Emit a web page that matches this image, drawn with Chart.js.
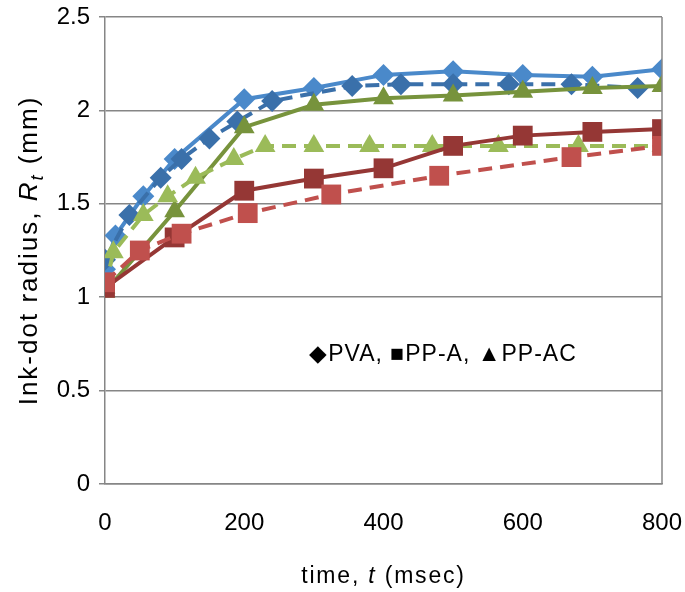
<!DOCTYPE html>
<html>
<head>
<meta charset="utf-8">
<script src="https://cdn.jsdelivr.net/npm/chart.js@4.4.1/dist/chart.umd.min.js"></script>
<style>
  html, body { margin: 0; padding: 0; background: #fff; }
  #wrap { width: 685px; height: 592px; }
</style>
</head>
<body>
<div id="wrap"><canvas id="chart" width="685" height="592"></canvas></div>
<script>
// time (msec) and radius (mm)
const pvaSolidT = [0, 15, 55, 100, 200, 300, 400, 500, 600, 700, 800];
const pvaSolidR = [1.15, 1.33, 1.54, 1.74, 2.06, 2.12, 2.19, 2.21, 2.19, 2.18, 2.22];
const pvaDashT = [0, 35, 80, 110, 150, 190, 240, 355, 425, 500, 580, 670, 765];
const pvaDashR = [1.2, 1.44, 1.64, 1.74, 1.85, 1.94, 2.05, 2.13, 2.14, 2.14, 2.14, 2.14, 2.12];

const ppaSolidT = [0, 100, 200, 300, 400, 500, 600, 700, 800];
const ppaSolidR = [1.05, 1.32, 1.57, 1.635, 1.69, 1.81, 1.865, 1.885, 1.9];
const ppaDashT = [0, 50, 110, 205, 325, 480, 670, 800];
const ppaDashR = [1.08, 1.25, 1.34, 1.45, 1.55, 1.65, 1.75, 1.81];

const ppacSolidT = [0, 100, 200, 300, 400, 500, 600, 700, 800];
const ppacSolidR = [1.03, 1.46, 1.91, 2.03, 2.065, 2.08, 2.1, 2.12, 2.13];
const ppacDashT = [0, 12, 55, 90, 130, 185, 230, 300, 380, 470, 565, 680, 800];
const ppacDashR = [1.05, 1.24, 1.44, 1.54, 1.64, 1.74, 1.81, 1.81, 1.81, 1.81, 1.81, 1.81, 1.81];

const xTicks = [0, 200, 400, 600, 800];
const yTicks = [0, 0.5, 1, 1.5, 2, 2.5];

const FONT = '"Liberation Sans", Arial, sans-serif';
const AXIS_GRAY = '#868686';

function pts(ts, rs) {
    return ts.map((t, i) => ({ x: t, y: rs[i] }));
}

function series(ts, rs, color, shape, radius, dashed) {
    return {
        data: pts(ts, rs),
        borderColor: color,
        backgroundColor: color,
        borderWidth: 4,
        borderDash: dashed ? [14, 8] : [],
        pointStyle: shape,
        pointRadius: radius,
        pointHoverRadius: radius,
        pointBorderWidth: 0,
        showLine: true,
        tension: 0
    };
}

// draws a row of text pieces, some italic or subscript, centred on 0
function drawRuns(ctx, runs, size, spacing) {
    ctx.letterSpacing = spacing + 'px';
    let total = 0;
    runs.forEach(r => {
        const s = r.sub ? size * 0.7 : size;
        ctx.font = (r.italic ? 'italic ' : '') + s + 'px ' + FONT;
        r.w = ctx.measureText(r.text).width;
        total += r.w;
    });
    let x = -total / 2;
    runs.forEach(r => {
        const s = r.sub ? size * 0.7 : size;
        ctx.font = (r.italic ? 'italic ' : '') + s + 'px ' + FONT;
        ctx.fillText(r.text, x, r.sub ? size * 0.3 : 0);
        x += r.w;
    });
    ctx.letterSpacing = '0px';
}

const decorations = {
    id: 'decorations',
    afterDraw(chart) {
        const { ctx, chartArea } = chart;
        ctx.save();
        // right border of the plot area
        ctx.strokeStyle = AXIS_GRAY;
        ctx.lineWidth = 1.5;
        ctx.beginPath();
        ctx.moveTo(chartArea.right, chartArea.top);
        ctx.lineTo(chartArea.right, chartArea.bottom);
        ctx.stroke();

        ctx.fillStyle = '#000';
        ctx.textBaseline = 'middle';
        ctx.textAlign = 'left';

        // x title
        ctx.save();
        ctx.translate((chartArea.left + chartArea.right) / 2, 577);
        drawRuns(ctx, [{ text: 'time, ' }, { text: 't', italic: true }, { text: ' (msec)' }], 23, 1.8);
        ctx.restore();

        // y title
        ctx.save();
        ctx.translate(30, (chartArea.top + chartArea.bottom) / 2);
        ctx.rotate(-Math.PI / 2);
        drawRuns(ctx, [{ text: 'Ink-dot radius, ' }, { text: 'R', italic: true },
            { text: 't', italic: true, sub: true }, { text: ' (mm)' }], 26, 2);
        ctx.restore();

        // marker key written inside the plot
        ctx.save();
        ctx.translate(443, 355);
        drawRuns(ctx, [{ text: '\u25C6PVA, \u25A0PP-A, \u25B2PP-AC' }], 23, 1);
        ctx.restore();

        ctx.restore();
    }
};

new Chart(document.getElementById('chart'), {
    type: 'scatter',
    data: {
        datasets: [
            series(ppaDashT, ppaDashR, '#C0504D', 'rect', 14, true),
            series(ppaSolidT, ppaSolidR, '#953735', 'rect', 14, false),
            series(ppacDashT, ppacDashR, '#9BBB59', 'triangle', 12, true),
            series(ppacSolidT, ppacSolidR, '#77933C', 'triangle', 12, false),
            series(pvaDashT, pvaDashR, '#3A70AA', 'rectRot', 11, true),
            series(pvaSolidT, pvaSolidR, '#4A89CA', 'rectRot', 11, false)
        ]
    },
    options: {
        responsive: false,
        animation: false,
        layout: { padding: { top: 17, right: 23, left: 0, bottom: 0 } },
        plugins: {
            legend: { display: false },
            tooltip: { enabled: false }
        },
        scales: {
            x: {
                type: 'linear',
                min: 0,
                max: 800,
                afterBuildTicks: axis => { axis.ticks = xTicks.map(v => ({ value: v })); },
                afterFit: axis => {
                    axis.height = 108;
                    axis.paddingLeft = 0;
                    axis.paddingRight = 0;
                },
                grid: { display: false, drawTicks: false },
                border: { color: AXIS_GRAY, width: 1.5 },
                ticks: {
                    padding: 25,
                    color: '#000',
                    font: { family: FONT, size: 24 },
                    maxRotation: 0
                }
            },
            y: {
                min: 0,
                max: 2.5,
                afterBuildTicks: axis => { axis.ticks = yTicks.map(v => ({ value: v })); },
                afterFit: axis => {
                    axis.width = 105;
                    axis.paddingTop = 0;
                    axis.paddingBottom = 0;
                },
                grid: { color: AXIS_GRAY, lineWidth: 1.5, tickLength: 6 },
                border: { color: AXIS_GRAY, width: 1.5 },
                ticks: {
                    padding: 9,
                    color: '#000',
                    font: { family: FONT, size: 24 },
                    callback: v => String(v)
                }
            }
        }
    },
    plugins: [decorations]
});
</script>
</body>
</html>
